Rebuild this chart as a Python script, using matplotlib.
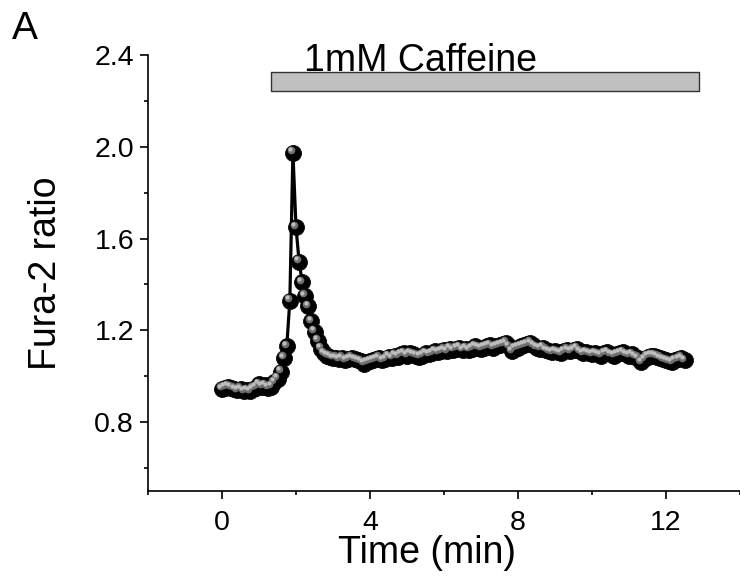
import numpy as np
import matplotlib
matplotlib.use("Agg")
import matplotlib.pyplot as plt
from matplotlib.transforms import offset_copy

plt.rcParams['font.family'] = ['Liberation Sans', 'DejaVu Sans']

# sampling interval (min) of the recording
sample_interval_min = 5 / 60

ratio = [
    0.945, 0.950, 0.955, 0.950, 0.945, 0.940, 0.945, 0.935, 0.940, 0.935,
    0.945, 0.950, 0.965, 0.955, 0.960, 0.950, 0.955, 0.975, 0.990, 1.020,
    1.080, 1.130, 1.330, 1.975, 1.650, 1.500, 1.410, 1.350, 1.305, 1.240,
    1.195, 1.155, 1.120, 1.100, 1.090, 1.085, 1.080,
    1.080, 1.075, 1.080, 1.070, 1.075, 1.080,
    1.075, 1.070, 1.065, 1.055, 1.060, 1.065,
    1.070, 1.075, 1.080, 1.070, 1.075, 1.085,
    1.080, 1.090, 1.085, 1.095, 1.100, 1.090,
    1.100, 1.095, 1.090, 1.085, 1.090, 1.100,
    1.095, 1.100, 1.110, 1.105, 1.110, 1.115,
    1.110, 1.120, 1.115, 1.120, 1.125, 1.115,
    1.120, 1.115, 1.120, 1.130, 1.125, 1.120,
    1.125, 1.130, 1.135, 1.125, 1.130, 1.135,
    1.140, 1.145, 1.130, 1.110, 1.120, 1.125,
    1.130, 1.135, 1.140, 1.145, 1.135, 1.125,
    1.120, 1.125, 1.115, 1.110, 1.105, 1.110,
    1.105, 1.100, 1.110, 1.115, 1.110, 1.115,
    1.120, 1.110, 1.100, 1.105, 1.100, 1.095,
    1.100, 1.095, 1.090, 1.100, 1.105, 1.095,
    1.090, 1.095, 1.100, 1.105, 1.095, 1.090,
    1.095, 1.085, 1.080, 1.060, 1.075, 1.085,
    1.090, 1.090, 1.085, 1.080, 1.075, 1.070,
    1.065, 1.060, 1.070, 1.075, 1.080, 1.070,
]
time_min = np.arange(len(ratio)) * sample_interval_min

bar_start, bar_end = 1.33, 12.9
bar_low, bar_high = 2.243, 2.326
bar_label = "1mM Caffeine"

xticks = [0, 4, 8, 12]
xminor = [-2, 2, 6, 10, 14]
yticks = [0.8, 1.2, 1.6, 2.0, 2.4]
yminor = [0.6, 1.0, 1.4, 1.8, 2.2]

fig = plt.figure(figsize=(7.40, 5.79), dpi=100)
ax = fig.add_axes([148/740, 1 - 491/579, 592/740, (491 - 55)/579])
ax.set_xlim(-2, 14)
ax.set_ylim(0.5, 2.4)

ax.plot(time_min, ratio, color='black', lw=2.3, zorder=2)

hl1 = offset_copy(ax.transData, fig=fig, x=-1.5, y=1.8, units='points')
hl2 = offset_copy(ax.transData, fig=fig, x=-2.0, y=2.4, units='points')
z = 3
for t, r in zip(time_min, ratio):
    ax.plot([t], [r], 'o', ms=11.5, mfc='black', mec='#0a0a0a', mew=0.6, zorder=z)
    ax.plot([t], [r], 'o', ms=5.5, mfc='#6e6e6e', mew=0, zorder=z + 0.1, transform=hl1)
    ax.plot([t], [r], 'o', ms=3.0, mfc='#bdbdbd', mew=0, zorder=z + 0.2, transform=hl2)
    z += 0.001

ax.fill_between([bar_start, bar_end], bar_low, bar_high, facecolor='#c0c0c0',
                edgecolor='#333333', lw=1.0, zorder=5, clip_on=False)
ax.text((2.19 + 8.55) / 2, 2.332, bar_label, ha='center', va='baseline',
        fontsize=27, zorder=6)

for s in ['top', 'right']:
    ax.spines[s].set_visible(False)
for s in ['left', 'bottom']:
    ax.spines[s].set_linewidth(1.2)

ax.set_xticks(xticks)
ax.set_xticks(xminor, minor=True)
ax.set_yticks(yticks)
ax.set_yticklabels([f"{v:.1f}" for v in yticks])
ax.set_yticks(yminor, minor=True)
ax.tick_params(which='major', direction='out', length=6, width=1.2, labelsize=20.5)
ax.tick_params(axis='x', which='major', pad=8)
ax.tick_params(axis='y', which='major', pad=4)
ax.tick_params(which='minor', direction='out', length=3, width=1.2)

ax.set_xlabel("Time (min)", fontsize=27)
ax.xaxis.set_label_coords((427 - 148) / 592, -(535 - 491) / 436)
ax.xaxis.label.set_va('top')
ax.set_ylabel("Fura-2 ratio", fontsize=27)
ax.yaxis.set_label_coords(-(148 - 46) / 592, 0.5)
ax.yaxis.label.set_va('center')

fig.text(12 / 740, 1 - 11 / 579, "A", fontsize=28, ha='left', va='top')

fig.savefig("out.png", dpi=100)
